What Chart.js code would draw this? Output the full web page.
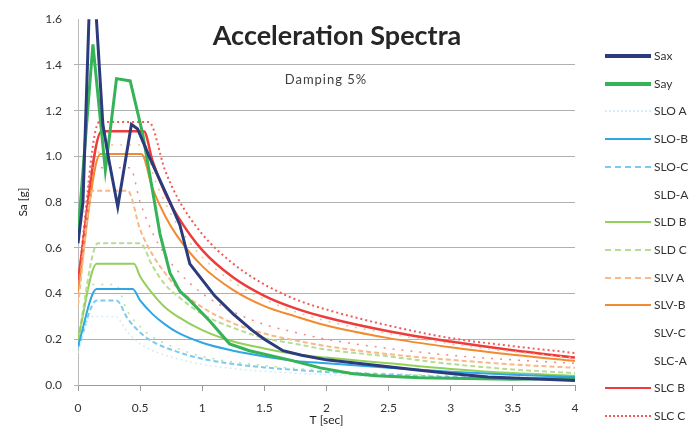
<!DOCTYPE html>
<html>
<head>
<meta charset="utf-8">
<script src="https://cdn.jsdelivr.net/npm/chart.js@4.4.0/dist/chart.umd.min.js"></script>
<style>
    body {
        margin: 0;
        background: #fff;
        overflow: hidden;
        font-family: Lato, "Open Sans", sans-serif;
    }
    #wrap {
        position: relative;
        width: 691px;
        height: 429px;
        overflow: hidden;
    }
    #title {
        position: absolute;
        left: 0;
        width: 674px;
        top: 18px;
        text-align: center;
        font-weight: bold;
        font-size: 27px;
        color: #262626;
    }
    #subtitle {
        position: absolute;
        left: 0;
        width: 652px;
        top: 71px;
        text-align: center;
        font-size: 13px;
        letter-spacing: 1px;
        color: #404040;
    }
    .item {
        position: absolute;
        left: 605px;
        height: 14px;
        white-space: nowrap;
        font-size: 12px;
        color: #333;
    }
    .item span.line {
        display: inline-block;
        width: 46px;
        vertical-align: middle;
        margin-right: 3px;
    }
    .item span.txt {
        vertical-align: middle;
    }
</style>
</head>
<body>
<div id="wrap">
    <canvas id="spectraChart" width="691" height="429"></canvas>
    <div id="title">Acceleration Spectra</div>
    <div id="subtitle">Damping 5%</div>
    <div id="legend"></div>
</div>
<script>
// Recorded spectra
const saxT = [0, 0.04, 0.1, 0.12, 0.2, 0.25, 0.32, 0.43, 0.48, 0.58, 0.74, 0.82, 0.9, 1.0, 1.1, 1.25, 1.4, 1.5, 1.65, 1.8, 2.0, 2.25, 2.5, 2.75, 3.0, 3.3, 3.6, 4.0];
const saxSa = [0.62, 0.8, 1.8, 1.85, 1.14, 0.98, 0.78, 1.14, 1.12, 0.99, 0.8, 0.7, 0.53, 0.46, 0.39, 0.31, 0.24, 0.2, 0.15, 0.13, 0.11, 0.095, 0.08, 0.065, 0.05, 0.035, 0.028, 0.02];

const sayT = [0, 0.12, 0.22, 0.31, 0.42, 0.52, 0.6, 0.66, 0.74, 0.82, 0.9, 1.06, 1.22, 1.38, 1.7, 1.95, 2.2, 2.4, 2.75, 3.0, 3.5, 4.0];
const saySa = [0.66, 1.49, 0.94, 1.34, 1.33, 1.1, 0.85, 0.66, 0.49, 0.41, 0.37, 0.28, 0.18, 0.15, 0.11, 0.075, 0.05, 0.04, 0.032, 0.03, 0.025, 0.03];

// Code spectra (SLO / SLD / SLV / SLC, soil A B C)
const sloAT = [0, 0.1, 0.3, 0.4, 0.5, 0.6, 0.8, 1.0, 1.25, 1.5, 2.0, 2.5, 3.0, 3.5, 4.0];
const sloASa = [0.14, 0.3, 0.3, 0.23, 0.18, 0.15, 0.115, 0.09, 0.072, 0.06, 0.045, 0.036, 0.03, 0.025, 0.02];

const sloBT = [0, 0.15, 0.44, 0.5, 0.6, 0.7, 0.8, 1.0, 1.25, 1.5, 1.75, 2.0, 2.5, 3.0, 3.5, 4.0];
const sloBSa = [0.17, 0.42, 0.42, 0.37, 0.31, 0.265, 0.23, 0.185, 0.15, 0.125, 0.105, 0.095, 0.075, 0.058, 0.045, 0.035];

const sloCT = [0, 0.15, 0.31, 0.4, 0.5, 0.6, 0.8, 1.0, 1.25, 1.5, 1.75, 2.0, 2.5, 3.0, 3.5, 4.0];
const sloCSa = [0.16, 0.37, 0.37, 0.29, 0.23, 0.19, 0.145, 0.115, 0.092, 0.077, 0.066, 0.057, 0.046, 0.035, 0.03, 0.025];

const sldAT = [0, 0.1, 0.3, 0.4, 0.5, 0.6, 0.8, 1.0, 1.5, 2.0, 2.5, 3.0, 3.5, 4.0];
const sldASa = [0.18, 0.44, 0.44, 0.32, 0.255, 0.21, 0.16, 0.125, 0.085, 0.063, 0.05, 0.04, 0.035, 0.03];

const sldBT = [0, 0.15, 0.45, 0.5, 0.6, 0.7, 0.8, 1.0, 1.25, 1.5, 1.75, 2.0, 2.5, 3.0, 3.5, 4.0];
const sldBSa = [0.2, 0.53, 0.53, 0.475, 0.4, 0.34, 0.3, 0.24, 0.19, 0.16, 0.135, 0.12, 0.095, 0.07, 0.052, 0.04];

const sldCT = [0, 0.16, 0.5, 0.6, 0.7, 0.8, 1.0, 1.25, 1.5, 1.75, 2.0, 2.5, 3.0, 3.5, 4.0];
const sldCSa = [0.2, 0.62, 0.62, 0.52, 0.44, 0.39, 0.31, 0.25, 0.205, 0.18, 0.155, 0.125, 0.092, 0.068, 0.052];

const slvAT = [0, 0.12, 0.4, 0.5, 0.6, 0.7, 0.8, 1.0, 1.25, 1.5, 1.75, 2.0, 2.5, 3.0, 3.5, 4.0];
const slvASa = [0.35, 0.85, 0.85, 0.68, 0.57, 0.49, 0.425, 0.34, 0.27, 0.225, 0.195, 0.17, 0.135, 0.11, 0.09, 0.075];

const slvBT = [0, 0.18, 0.51, 0.6, 0.7, 0.8, 1.0, 1.25, 1.5, 1.75, 2.0, 2.5, 3.0, 3.5, 4.0];
const slvBSa = [0.41, 1.01, 1.01, 0.86, 0.74, 0.65, 0.52, 0.415, 0.345, 0.3, 0.26, 0.205, 0.165, 0.132, 0.105];

const slvCT = [0, 0.2, 0.55, 0.6, 0.7, 0.8, 1.0, 1.25, 1.5, 1.75, 2.0, 2.5, 3.0, 3.5, 4.0];
const slvCSa = [0.43, 1.05, 1.05, 0.93, 0.8, 0.7, 0.56, 0.45, 0.375, 0.32, 0.28, 0.225, 0.18, 0.145, 0.118];

const slcAT = [0, 0.12, 0.42, 0.5, 0.6, 0.7, 0.8, 1.0, 1.25, 1.5, 1.75, 2.0, 2.5, 3.0, 3.5, 4.0];
const slcASa = [0.4, 0.95, 0.95, 0.8, 0.665, 0.57, 0.5, 0.4, 0.32, 0.265, 0.23, 0.2, 0.16, 0.13, 0.11, 0.095];

const slcBT = [0, 0.19, 0.53, 0.6, 0.7, 0.8, 1.0, 1.25, 1.5, 1.75, 2.0, 2.5, 3.0, 3.5, 4.0];
const slcBSa = [0.46, 1.11, 1.11, 0.98, 0.84, 0.74, 0.59, 0.47, 0.39, 0.335, 0.295, 0.235, 0.19, 0.152, 0.12];

const slcCT = [0, 0.17, 0.57, 0.7, 0.8, 1.0, 1.25, 1.5, 1.75, 2.0, 2.5, 3.0, 3.5, 4.0];
const slcCSa = [0.45, 1.15, 1.15, 0.94, 0.82, 0.66, 0.53, 0.44, 0.375, 0.33, 0.26, 0.205, 0.17, 0.14];

const yTicks = [0, 0.2, 0.4, 0.6, 0.8, 1.0, 1.2, 1.4, 1.6];

// build one line dataset
function series(label, t, sa, color, width, style, smooth) {
    let dash = [];
    if (style === "dashed") dash = [5, 3];
    if (style === "dotted") dash = [2, 3];
    if (style === "sparse") dash = [2, 7];
    return {
        label: label,
        data: t.map((x, i) => ({ x: x, y: sa[i] })),
        borderColor: color,
        borderWidth: width,
        borderDash: dash,
        pointRadius: 0,
        fill: false,
        cubicInterpolationMode: smooth ? "monotone" : "default",
        lineStyle: style,
    };
}

const datasets = [
    series("Sax", saxT, saxSa, "#2b3b7c", 3, "solid", false),
    series("Say", sayT, saySa, "#36b257", 3, "solid", false),
    series("SLO A", sloAT, sloASa, "#d6ecf9", 1.5, "dotted", true),
    series("SLO-B", sloBT, sloBSa, "#2fa7e2", 2, "solid", true),
    series("SLO-C", sloCT, sloCSa, "#7ccaf0", 2, "dashed", true),
    series("SLD-A", sldAT, sldASa, "#b9e09c", 1.5, "sparse", true),
    series("SLD B", sldBT, sldBSa, "#92d05a", 2, "solid", true),
    series("SLD C", sldCT, sldCSa, "#b6dd93", 2, "dashed", true),
    series("SLV A", slvAT, slvASa, "#f8b888", 2, "dashed", true),
    series("SLV-B", slvBT, slvBSa, "#f28a30", 2, "solid", true),
    series("SLV-C", slvCT, slvCSa, "#f9c08a", 1.5, "sparse", true),
    series("SLC-A", slcAT, slcASa, "#f08a8a", 1.5, "sparse", true),
    series("SLC B", slcBT, slcBSa, "#ee3b3b", 2.5, "solid", true),
    series("SLC C", slcCT, slcCSa, "#f25b5b", 2, "dotted", true),
];

const ctx = document.getElementById("spectraChart").getContext("2d");
const spectraChart = new Chart(ctx, {
    type: "line",
    data: { datasets: datasets },
    options: {
        responsive: false,
        animation: false,
        layout: {
            padding: { left: 16, right: 116, top: 17, bottom: 0 },
        },
        plugins: {
            legend: { display: false },
            tooltip: { enabled: false },
        },
        scales: {
            x: {
                type: "linear",
                min: 0,
                max: 4,
                afterFit: function (scale) {
                    scale.height = 44;
                },
                ticks: {
                    stepSize: 0.5,
                    padding: 10,
                    color: "#333",
                    font: { family: "Lato", size: 12 },
                    callback: function (value) {
                        return String(value);
                    },
                },
                grid: {
                    drawOnChartArea: false,
                    drawTicks: true,
                    tickLength: 6,
                    color: "#999",
                },
                border: { color: "#999" },
                title: {
                    display: true,
                    text: "T [sec]",
                    color: "#222",
                    font: { family: "Lato", size: 12 },
                    padding: { top: 0, bottom: 2 },
                },
            },
            y: {
                min: 0,
                max: 1.6,
                afterFit: function (scale) {
                    scale.width = 62;
                },
                afterBuildTicks: function (scale) {
                    scale.ticks = yTicks.map((v) => ({ value: v }));
                },
                ticks: {
                    padding: 12,
                    color: "#333",
                    font: { family: "Lato", size: 12 },
                    callback: function (value) {
                        return value.toFixed(1);
                    },
                },
                grid: {
                    tickLength: 4,
                    color: function (c) {
                        return c.tick && c.tick.value === 1.6 ? "rgba(0,0,0,0)" : "#b0b0b0";
                    },
                },
                border: { color: "#bbb" },
                title: {
                    display: true,
                    text: "Sa [g]",
                    color: "#222",
                    font: { family: "Lato", size: 12 },
                    padding: { top: 0, bottom: 0 },
                },
            },
        },
    },
});

// Legend
const legend = document.getElementById("legend");
datasets.forEach((ds, i) => {
    const item = document.createElement("div");
    item.className = "item";
    item.style.top = 54 + i * 27.7 - 7 + "px";
    let style = ds.lineStyle === "sparse" ? "dotted" : ds.lineStyle;
    let w = ds.borderWidth >= 3 ? 4 : 2;
    let color = ds.lineStyle === "sparse" ? "rgba(255,255,255,0)" : ds.borderColor;
    item.innerHTML =
        '<span class="line" style="border-top:' + w + "px " + style + " " + color + '"></span>' +
        '<span class="txt">' + ds.label + "</span>";
    legend.appendChild(item);
});
</script>
</body>
</html>
